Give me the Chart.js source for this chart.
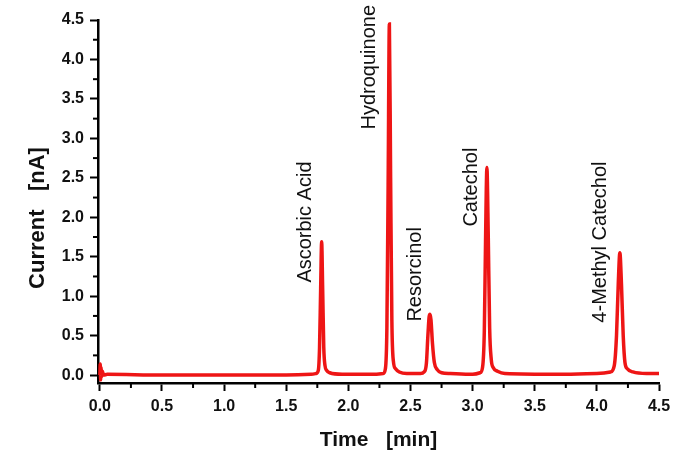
<!DOCTYPE html>
<html>
<head>
<meta charset="utf-8">
<script src="https://cdn.jsdelivr.net/npm/chart.js@4/dist/chart.umd.min.js"></script>
<style>
  body { margin: 0; background: #fff; }
</style>
</head>
<body>
<canvas id="chroma" width="686" height="471"></canvas>
<script>
// retention time (min) and detector current (nA)
const timeMin = [
  0.000, 0.003, 0.006, 0.010, 0.015, 0.020, 0.030, 0.060, 0.50, 1.00, 1.50,
  1.70, 1.74, 1.758, 1.768, 1.777, 1.785, 1.793, 1.802, 1.812, 1.825, 1.85, 1.95,
  2.20, 2.28, 2.298, 2.310, 2.320, 2.330, 2.340, 2.350, 2.362, 2.38, 2.41, 2.47,
  2.58, 2.61, 2.628, 2.640, 2.650, 2.657, 2.665, 2.677, 2.692, 2.715, 2.75, 2.82,
  3.00, 3.06, 3.08, 3.094, 3.104, 3.115, 3.126, 3.137, 3.150, 3.168, 3.20, 3.26,
  3.70, 4.00, 4.11, 4.14, 4.158, 4.172, 4.185, 4.198, 4.212, 4.226, 4.245, 4.29, 4.40, 4.50
]
const currentNA = [
  0.00, 0.14, -0.06, 0.10, -0.02, 0.05, 0.00, 0.01, 0.00, 0.00, 0.00,
  0.01, 0.02, 0.06, 0.35, 1.10, 1.69, 1.10, 0.35, 0.12, 0.06, 0.03, 0.01,
  0.01, 0.02, 0.08, 0.60, 2.40, 4.45, 2.50, 0.70, 0.18, 0.08, 0.04, 0.02,
  0.02, 0.04, 0.15, 0.50, 0.74, 0.77, 0.70, 0.40, 0.16, 0.07, 0.03, 0.02,
  0.01, 0.03, 0.10, 0.55, 1.70, 2.63, 1.75, 0.60, 0.20, 0.09, 0.05, 0.02,
  0.01, 0.02, 0.04, 0.12, 0.50, 1.15, 1.55, 1.15, 0.50, 0.16, 0.08, 0.04, 0.02, 0.02
]

const xTicks = [0, 0.5, 1, 1.5, 2, 2.5, 3, 3.5, 4, 4.5]
const yTicks = [0, 0.5, 1, 1.5, 2, 2.5, 3, 3.5, 4, 4.5]

const peakNames = ["Ascorbic Acid", "Hydroquinone", "Resorcinol", "Catechol", "4-Methyl Catechol"]

// where each compound name starts (baseline, bottom end), in data units
const peakLabelAt = [
  [1.697, 1.172],
  [2.212, 3.112],
  [2.582, 0.678],
  [3.033, 1.882],
  [4.071, 0.665]
]

const fam = '"Liberation Sans", Arial, sans-serif'

let points = []
timeMin.forEach(function(t, i){
  points.push({ x: t, y: currentNA[i] })
})

// minor ticks + peak names + y title
const extras = {
  id: 'extras',
  afterDraw(chart) {
    const ctx = chart.ctx
    const xs = chart.scales.x
    const ys = chart.scales.y
    const area = chart.chartArea

    ctx.save()
    ctx.strokeStyle = '#000'
    ctx.lineWidth = 2
    for (let v = 0.25; v < 4.5; v += 0.5) {
      let px = xs.getPixelForValue(v)
      ctx.beginPath()
      ctx.moveTo(px, area.bottom)
      ctx.lineTo(px, area.bottom + 5)
      ctx.stroke()
      let py = ys.getPixelForValue(v)
      ctx.beginPath()
      ctx.moveTo(area.left, py)
      ctx.lineTo(area.left - 5, py)
      ctx.stroke()
    }

    ctx.fillStyle = '#111'
    ctx.font = '20px ' + fam
    ctx.textAlign = 'left'
    ctx.textBaseline = 'alphabetic'
    peakNames.forEach(function(name, i){
      ctx.save()
      ctx.translate(xs.getPixelForValue(peakLabelAt[i][0]), ys.getPixelForValue(peakLabelAt[i][1]))
      ctx.rotate(-Math.PI / 2)
      ctx.fillText(name, 0, 0)
      ctx.restore()
    })

    ctx.save()
    ctx.font = 'bold 22px ' + fam
    ctx.textAlign = 'center'
    ctx.textBaseline = 'middle'
    ctx.translate(38, 218)
    ctx.rotate(-Math.PI / 2)
    ctx.fillText('Current   [nA]', 0, 0)
    ctx.restore()

    ctx.restore()
  }
}

new Chart(document.getElementById("chroma"), {
  type: 'line',
  data: {
    datasets: [{
      data: points,
      borderColor: '#ee1515',
      borderWidth: 3.5,
      pointRadius: 0,
      fill: false,
      cubicInterpolationMode: 'monotone'
    }]
  },
  options: {
    responsive: false,
    animation: false,
    layout: { padding: { top: 20, right: 27, left: 0, bottom: 0 } },
    plugins: {
      legend: { display: false },
      tooltip: { enabled: false }
    },
    scales: {
      x: {
        type: 'linear',
        min: -0.015,
        max: 4.5,
        afterBuildTicks: function(scale){ scale.ticks = xTicks.map(v => ({ value: v })) },
        afterFit: function(scale){ scale.height = 88 },
        ticks: {
          autoSkip: false,
          maxRotation: 0,
          padding: 6,
          color: '#111',
          font: { family: fam, size: 16, weight: 'bold' },
          callback: v => v.toFixed(1)
        },
        grid: { drawOnChartArea: false, tickLength: 8, tickWidth: 2, tickColor: '#000' },
        border: { color: '#000', width: 2.5 },
        title: {
          display: true,
          text: 'Time   [min]',
          color: '#111',
          font: { family: fam, size: 21, weight: 'bold' },
          padding: { top: 0, bottom: 18 }
        }
      },
      y: {
        min: -0.1,
        max: 4.5,
        afterBuildTicks: function(scale){ scale.ticks = yTicks.map(v => ({ value: v })) },
        afterFit: function(scale){ scale.width = 98 },
        ticks: {
          padding: 6,
          color: '#111',
          font: { family: fam, size: 16, weight: 'bold' },
          callback: v => v.toFixed(1)
        },
        grid: { drawOnChartArea: false, tickLength: 8, tickWidth: 2, tickColor: '#000' },
        border: { color: '#000', width: 2.5 }
      }
    }
  },
  plugins: [extras]
});
</script>
</body>
</html>
